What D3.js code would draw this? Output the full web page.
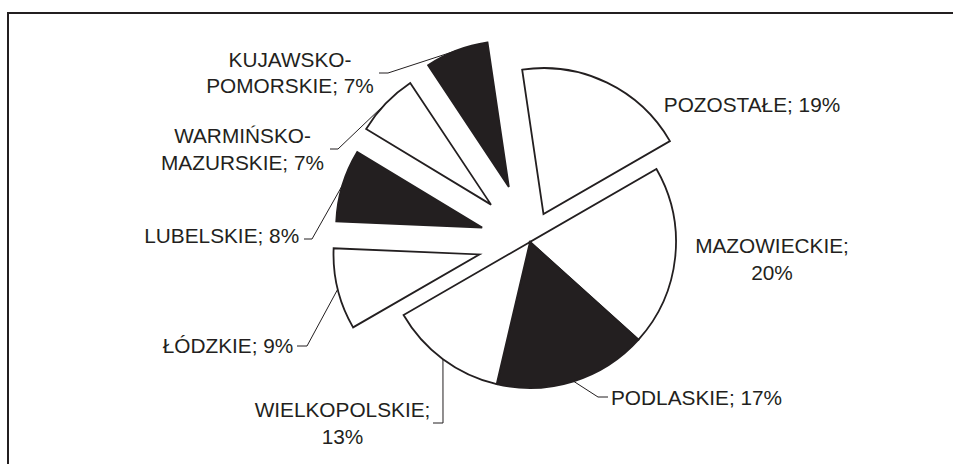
<!DOCTYPE html>
<meta charset="utf-8">
<script src="https://cdn.jsdelivr.net/npm/d3@7"></script>
<style>
    body { margin: 0; background: #fff; }
    .label { font: 20.8px "Liberation Sans", Arial, sans-serif; fill: #231f20; }
    .leader { fill: none; stroke: #231f20; stroke-width: 1; }
    .slice { stroke: #231f20; stroke-width: 1.8; stroke-linejoin: miter; }
</style>
<body>
<svg class="chart"></svg>
<script>
    ///////////////////////
    // Data
    var regions = ["MAZOWIECKIE", "PODLASKIE", "WIELKOPOLSKIE", "ŁÓDZKIE", "LUBELSKIE",
        "WARMIŃSKO-MAZURSKIE", "KUJAWSKO-POMORSKIE", "POZOSTAŁE"];
    var shares = [20, 17, 13, 9, 8, 7, 7, 19];
    // label text, split in lines as on the picture
    var labelLines = [
        ["MAZOWIECKIE;", "20%"],
        ["PODLASKIE; 17%"],
        ["WIELKOPOLSKIE;", "13%"],
        ["ŁÓDZKIE; 9%"],
        ["LUBELSKIE; 8%"],
        ["WARMIŃSKO-", "MAZURSKIE; 7%"],
        ["KUJAWSKO-", "POMORSKIE; 7%"],
        ["POZOSTAŁE; 19%"]
    ];

    ///////////////////////
    // Styles / layout
    var fills = ["#fff", "#231f20", "#fff", "#fff", "#231f20", "#fff", "#231f20", "#fff"];
    var explode = [0, 0, 0, 52, 50, 54, 59, 31];
    // label anchor (x, first baseline) and leader elbow / end
    var labelPos = [
        { x: 772, y: 253, anchor: "middle" },
        { x: 611, y: 405, anchor: "start", elbow: [598, 397], end: [608, 397] },
        { x: 342.5, y: 417, anchor: "middle", elbow: [443, 423], end: [433, 423] },
        { x: 228, y: 352.7, anchor: "middle", elbow: [307, 346], end: [297, 346] },
        { x: 221.7, y: 243.3, anchor: "middle", elbow: [312, 239], end: [304, 239] },
        { x: 242.5, y: 143.3, anchor: "middle", elbow: [338, 149], end: [330, 149] },
        { x: 290, y: 66.7, anchor: "middle", elbow: [388, 73], end: [379, 73] },
        { x: 752, y: 111.5, anchor: "middle" }
    ];

    var width = 953, height = 464;
    var cx = 530, cy = 242, radius = 146;
    var lineHeight = 26.6;

    var svg = d3.select(".chart")
        .attr("width", width)
        .attr("height", height);

    // frame (left + top edges of the box)
    svg.append("path")
        .attr("d", "M8," + height + "V13H" + width)
        .attr("fill", "none")
        .attr("stroke", "#231f20")
        .attr("stroke-width", 2);

    var start = 60 * Math.PI / 180;
    var pie = d3.pie()
        .sort(null)
        .value(function(d) { return d; })
        .startAngle(start)
        .endAngle(start + 2 * Math.PI);

    var arc = d3.arc()
        .innerRadius(0)
        .outerRadius(radius);

    var arcs = pie(shares);

    function offset(d, i) {
        var mid = (d.startAngle + d.endAngle) / 2;
        return [Math.sin(mid) * explode[i], -Math.cos(mid) * explode[i]];
    }

    var chart = svg.append("g")
        .attr("transform", "translate(" + cx + "," + cy + ")");

    ///////////////////////
    // Leader lines
    arcs.forEach(function(d, i) {
        var lp = labelPos[i];
        if (!lp.elbow) return;
        var mid = (d.startAngle + d.endAngle) / 2;
        var o = offset(d, i);
        var p0 = [cx + o[0] + Math.sin(mid) * radius, cy + o[1] - Math.cos(mid) * radius];
        svg.append("path")
            .attr("class", "leader")
            .attr("d", d3.line()([p0, lp.elbow, lp.end]));
    });

    ///////////////////////
    // Slices
    chart.selectAll("path.slice")
        .data(arcs)
        .enter().append("path")
        .attr("class", "slice")
        .attr("fill", function(d, i) { return fills[i]; })
        .attr("transform", function(d, i) {
            var o = offset(d, i);
            return "translate(" + o[0] + "," + o[1] + ")";
        })
        .attr("d", arc);

    ///////////////////////
    // Labels
    labelLines.forEach(function(lines, i) {
        var lp = labelPos[i];
        var t = svg.append("text")
            .attr("class", "label")
            .attr("text-anchor", lp.anchor)
            .attr("x", lp.x)
            .attr("y", lp.y);
        lines.forEach(function(s, k) {
            t.append("tspan")
                .attr("x", lp.x)
                .attr("y", lp.y + k * lineHeight)
                .text(s);
        });
    });
</script>
</body>
